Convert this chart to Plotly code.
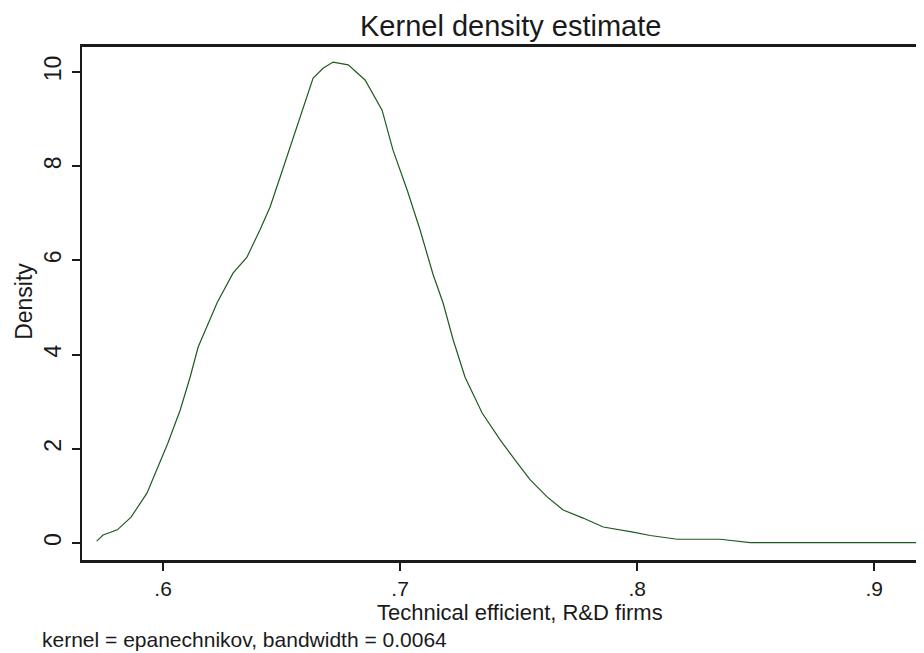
import plotly.graph_objects as go

# Kernel density estimate
efficiency = [0.572, 0.5747, 0.5807, 0.5865, 0.5932, 0.5987, 0.602, 0.6072, 0.6114, 0.6148,
              0.6186, 0.6228, 0.6295, 0.6354, 0.6409, 0.6451, 0.6494, 0.6536, 0.6578, 0.6633,
              0.6675, 0.6717, 0.6781, 0.6852, 0.6924, 0.6970, 0.7030, 0.7084, 0.7139, 0.7181,
              0.7224, 0.7274, 0.7346, 0.7422, 0.7494, 0.7549, 0.7620, 0.7688, 0.7772, 0.7857,
              0.7983, 0.8055, 0.8169, 0.835, 0.8477, 0.918]
density = [0.04, 0.17, 0.28, 0.55, 1.06, 1.70, 2.12, 2.82, 3.52, 4.16,
           4.59, 5.10, 5.73, 6.07, 6.65, 7.13, 7.77, 8.41, 9.04, 9.87,
           10.08, 10.21, 10.15, 9.83, 9.19, 8.34, 7.49, 6.65, 5.70, 5.10,
           4.31, 3.52, 2.76, 2.19, 1.70, 1.34, 0.98, 0.70, 0.53, 0.34,
           0.23, 0.16, 0.08, 0.08, 0.01, 0.01]

x_tick_vals = [0.6, 0.7, 0.8, 0.9]
x_tick_text = [".6", ".7", ".8", ".9"]
y_tick_vals = [0, 2, 4, 6, 8, 10]
y_tick_text = ["0", "2", "4", "6", "8", "10"]

title_text = "Kernel density estimate"
x_title = "Technical efficient, R&D firms"
y_title = "Density"
note_text = "kernel = epanechnikov, bandwidth = 0.0064"

FONT = "Liberation Sans, Arial, sans-serif"
INK = "#1a1a1a"

fig = go.Figure()
fig.add_trace(go.Scatter(x=efficiency, y=density, mode="lines",
                         line=dict(color="#1f5a1f", width=1.2),
                         showlegend=False, hoverinfo="skip"))

# the page body has an 8px margin, so the figure is 8px smaller and margins 8px less
fig.update_layout(
    width=916, height=645,
    margin=dict(l=74, r=0, t=39, b=93, autoexpand=False),
    paper_bgcolor="white", plot_bgcolor="white",
    font=dict(family=FONT, color=INK),
    xaxis=dict(range=[0.5658, 0.921], tickvals=x_tick_vals, ticktext=x_tick_text,
               ticks="outside", ticklen=8, tickwidth=1.5, tickcolor=INK,
               showgrid=False, zeroline=False, showline=True, linecolor=INK,
               linewidth=2.5, mirror=True, tickfont=dict(size=21, color=INK),
               ticklabelstandoff=0, automargin=False),
    yaxis=dict(range=[-0.36, 10.53], tickvals=y_tick_vals, ticktext=y_tick_text,
               ticks="outside", ticklen=8, tickwidth=1.5, tickcolor=INK,
               showgrid=False, zeroline=False, showline=True, linecolor=INK,
               linewidth=2, mirror=False, tickangle=-90,
               tickfont=dict(size=23, color=INK), ticklabelstandoff=2,
               automargin=False),
    annotations=[
        dict(text=title_text, xref="paper", yref="paper", x=0.509, y=1.040,
             xanchor="center", yanchor="middle", showarrow=False,
             font=dict(size=29, color=INK, family=FONT)),
        dict(text=x_title, xref="paper", yref="paper", x=0.520, y=-0.103,
             xanchor="center", yanchor="middle", showarrow=False,
             font=dict(size=22, color=INK, family=FONT)),
        dict(text=y_title, xref="paper", yref="paper", x=-0.069, y=0.505,
             xanchor="center", yanchor="middle", showarrow=False, textangle=-90,
             font=dict(size=23, color=INK, family=FONT)),
        dict(text=note_text, xref="paper", yref="paper", x=-0.05, y=-0.155,
             xanchor="left", yanchor="middle", showarrow=False,
             font=dict(size=21, color=INK, family=FONT)),
    ],
)

fig.write_html("out.html")
